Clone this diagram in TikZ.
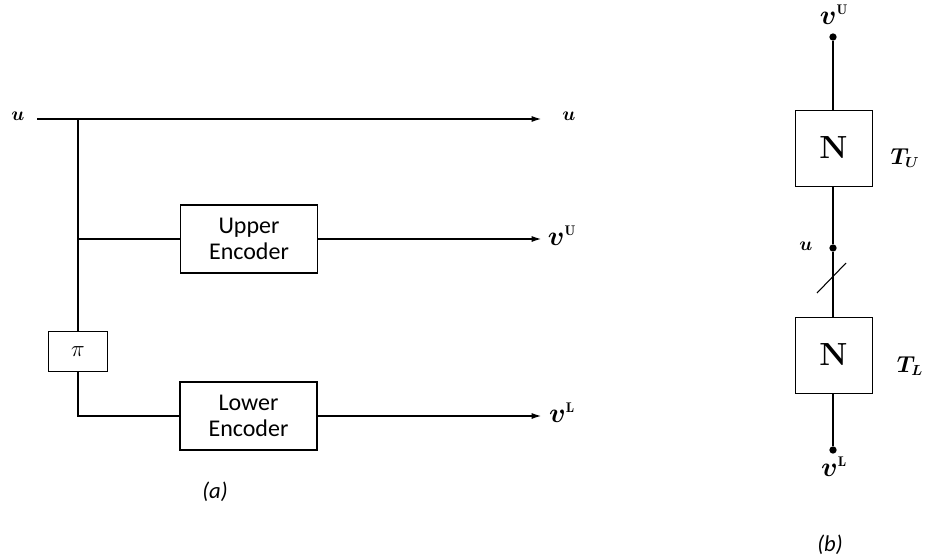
\documentclass[tikz,border=0pt]{standalone}
\usepackage{amsmath,bm}
\usepackage{fontspec}
\newfontfamily\calib{Carlito}
\usetikzlibrary{arrows.meta}
\begin{document}
\begin{tikzpicture}[x=0.75pt,y=-0.75pt,
  wire/.style={line width=0.8pt},
  arr/.style={wire,-{Latex[length=7pt,width=4.5pt]}},
  encbox/.style={draw,line width=0.9pt,minimum width=102.75pt,minimum height=51pt,align=center,inner sep=0pt,font=\calib\fontsize{18}{19}\selectfont},
  pibox/.style={draw,line width=0.9pt,minimum width=44.25pt,minimum height=30pt,inner sep=0pt,font=\fontsize{17}{18}\selectfont},
  nbox/.style={draw,line width=0.6pt,minimum width=57.75pt,minimum height=57pt,inner sep=0pt,font=\fontsize{24}{24}\selectfont\bfseries},
  dot/.style={circle,fill,inner sep=0pt,minimum size=5.5pt},
  lbl/.style={inner sep=0pt},
  captxt/.style={inner sep=0pt,font=\calib\itshape\fontsize{17}{18}\selectfont}
]
\useasboundingbox (0,0) rectangle (925,560);
% ---------- (a) ----------
\node[lbl,font=\fontsize{14}{16}\selectfont] (uin) at (18,116) {$\bm{u}$};
\coordinate (us) at (37,119);
\coordinate (j1) at (78,119);
\coordinate (uend) at (541,119);
\node[lbl,font=\fontsize{14}{16}\selectfont] (uout) at (569,116) {$\bm{u}$};
\node[encbox] (ue) at (249,239) {Upper\\Encoder};
\node[encbox] (le) at (248.5,416) {Lower\\Encoder};
\node[pibox] (pi) at (78,351.5) {$\pi$};
\coordinate (j2) at (78,239);
\coordinate (vuend) at (541,239);
\coordinate (vlend) at (541,416);
\node[lbl,font=\fontsize{21}{22}\selectfont] (vu) at (562,236) {$\bm{v}^{\scriptscriptstyle\mathbf{U}}$};
\node[lbl,font=\fontsize{21}{22}\selectfont] (vl) at (562,413) {$\bm{v}^{\scriptscriptstyle\mathbf{L}}$};
\draw[arr] (us) -- (uend);
\draw[wire] (j1) -- (pi.north);
\draw[wire] (j2) -- (ue.west);
\draw[wire] (pi.south) |- (le.west);
\draw[arr] (ue.east) -- (vuend);
\draw[arr] (le.east) -- (vlend);
\node[captxt] (capa) at (215,492) {(a)};
% ---------- (b) ----------
\node[dot] (d1) at (833,37) {};
\node[nbox] (nu) at (833.5,148) {N};
\node[dot] (d2) at (833,248) {};
\node[nbox] (nl) at (833.5,355) {N};
\node[dot] (d3) at (833,450) {};
\draw[wire] (d1) -- (nu.north -| d1);
\draw[wire] (nu.south -| d1) -- (d2);
\draw[wire] (d2) -- (nl.north -| d2);
\draw[wire] (nl.south -| d3) -- (d3);
\coordinate (s1) at (817,293);
\coordinate (s2) at (846,263);
\draw[wire] (s1) -- (s2);
\node[lbl,font=\fontsize{21}{22}\selectfont] (vub) at (834,15) {$\bm{v}^{\scriptscriptstyle\mathbf{U}}$};
\node[lbl,font=\fontsize{21}{22}\selectfont] (vlb) at (834,467) {$\bm{v}^{\scriptscriptstyle\mathbf{L}}$};
\node[lbl,font=\fontsize{14}{16}\selectfont] (ub) at (806,246) {$\bm{u}$};
\node[lbl,font=\fontsize{16}{18}\selectfont] (tu) at (905,158) {$\bm{T}_{\bm{U}}$};
\node[lbl,font=\fontsize{16}{18}\selectfont] (tl) at (910,366) {$\bm{T}_{\bm{L}}$};
\node[captxt] (capb) at (830,545) {(b)};
\end{tikzpicture}
\end{document}
